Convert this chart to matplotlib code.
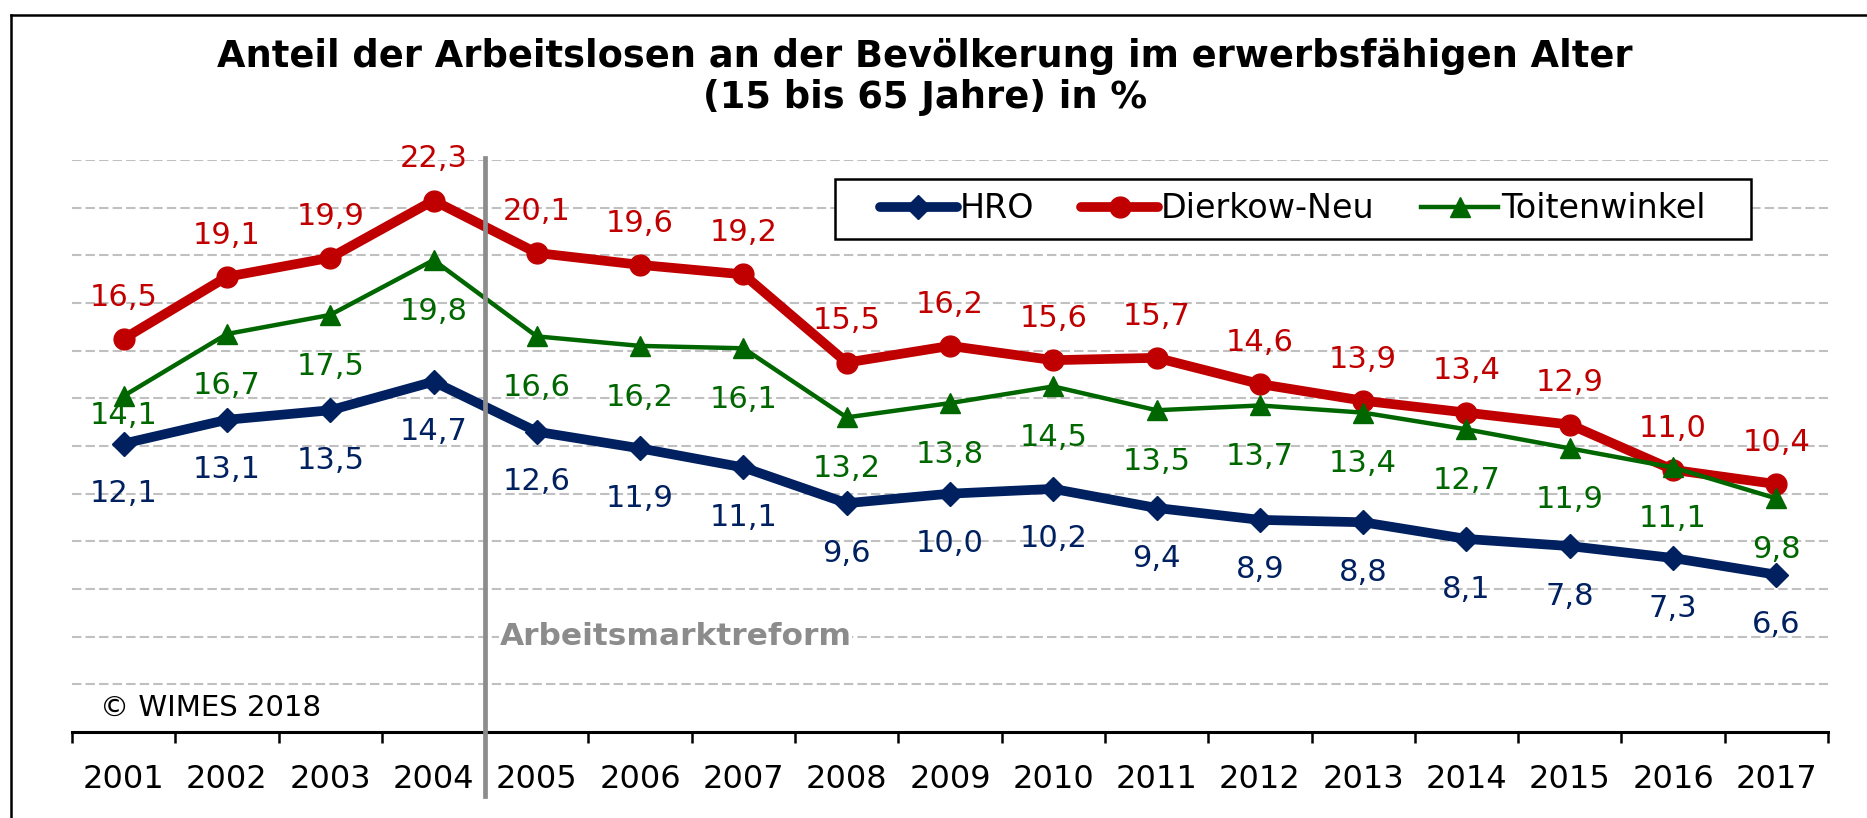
import matplotlib
matplotlib.use("Agg")
import matplotlib.pyplot as plt
from matplotlib.lines import Line2D
from matplotlib.patches import Rectangle

YEARS = [str(y) for y in range(2001, 2018)]
HRO = [12.1, 13.1, 13.5, 14.7, 12.6, 11.9, 11.1, 9.6, 10.0, 10.2, 9.4, 8.9, 8.8, 8.1, 7.8, 7.3, 6.6]
DIERKOW = [16.5, 19.1, 19.9, 22.3, 20.1, 19.6, 19.2, 15.5, 16.2, 15.6, 15.7, 14.6, 13.9, 13.4, 12.9, 11.0, 10.4]
TOITEN = [14.1, 16.7, 17.5, 19.8, 16.6, 16.2, 16.1, 13.2, 13.8, 14.5, 13.5, 13.7, 13.4, 12.7, 11.9, 11.1, 9.8]

TITLE = "Anteil der Arbeitslosen an der Bevölkerung im erwerbsfähigen Alter\n(15 bis 65 Jahre) in %"

C_HRO = "#002060"
C_RED = "#C00000"
C_GREEN = "#006600"

W, H = 1867, 818
plt.rcParams["font.family"] = ["DejaVu Sans"]

fig = plt.figure(figsize=(W / 100, H / 100), dpi=100)
ax = fig.add_axes([72 / W, 1 - 732 / H, (1828 - 72) / W, (732 - 160) / H])

x = list(range(len(YEARS)))

for yv in range(2, 25, 2):
    ax.axhline(yv, color="#C0C0C0", lw=1.5, ls=(0, (4.5, 2)), zorder=1)

ax.plot(x, HRO, color=C_HRO, lw=7, marker="D", ms=12, label="HRO", zorder=3,
        solid_joinstyle="round", solid_capstyle="round")
ax.plot(x, DIERKOW, color=C_RED, lw=7, marker="o", ms=15, label="Dierkow-Neu", zorder=3,
        solid_joinstyle="round", solid_capstyle="round")
ax.plot(x, TOITEN, color=C_GREEN, lw=3.2, marker="^", ms=15, label="Toitenwinkel", zorder=4)

def fmt(v):
    return f"{v:.1f}".replace(".", ",")

for i, v in enumerate(HRO):
    ax.text(i, v - 2.1, fmt(v), color=C_HRO, fontsize=22, ha="center", va="center", zorder=5)
for i, v in enumerate(DIERKOW):
    ax.text(i, v + 1.75, fmt(v), color=C_RED, fontsize=22, ha="center", va="center", zorder=5)
for i, v in enumerate(TOITEN):
    off = 0.8 if i == 0 else 2.15
    ax.text(i, v - off, fmt(v), color=C_GREEN, fontsize=22, ha="center", va="center", zorder=5)

# Arbeitsmarktreform marker line
ax.plot([3.5, 3.5], [24.1, -2.7], color="#8C8C8C", lw=3.4, clip_on=False, zorder=6)
ax.text(3.64, 4.0, "Arbeitsmarktreform", color="#8C8C8C", fontsize=22.5, fontweight="bold",
        ha="left", va="center", zorder=5,
        bbox=dict(facecolor="white", edgecolor="none", pad=0.5))

ax.set_xlim(-0.5, len(YEARS) - 0.5)
ax.set_ylim(0, 24)
ax.set_yticks([])
for side in ("left", "right", "top"):
    ax.spines[side].set_visible(False)
ax.spines["bottom"].set_linewidth(2.2)
ax.spines["bottom"].set_color("black")

ax.set_xticks([i - 0.5 for i in range(len(YEARS) + 1)])
ax.set_xticklabels([])
ax.tick_params(axis="x", which="major", direction="out", length=8, width=1.8, color="black")
ax.set_xticks(x, minor=True)
ax.set_xticklabels(YEARS, minor=True, fontsize=23)
ax.tick_params(axis="x", which="minor", length=0, pad=23)

fig.text(100 / W, 1 - 708 / H, "© WIMES 2018", fontsize=21, ha="left", va="center")

fig.text(925 / W, 1 - 77 / H, TITLE, fontsize=26.5, fontweight="bold", ha="center", va="center",
         linespacing=1.12)

# legend box
ax.add_patch(Rectangle((835 / W, 1 - 239 / H), (1751 - 835) / W, 60 / H,
                       transform=fig.transFigure, facecolor="white", edgecolor="black",
                       lw=1.8, zorder=7, clip_on=False))
leg = ax.legend(loc="center", bbox_to_anchor=(1293 / W, 1 - 209 / H),
                bbox_transform=fig.transFigure, ncol=3, frameon=False, fontsize=24,
                handlelength=2.3, handletextpad=0.1, columnspacing=1.4,
                borderpad=0, borderaxespad=0)
leg.set_zorder(8)

# outer frame (left and top edges)
fig.add_artist(Line2D([11 / W, 11 / W], [0, 1 - 15 / H], color="black", lw=1.8,
                      transform=fig.transFigure))
fig.add_artist(Line2D([11 / W, 1], [1 - 15 / H, 1 - 15 / H], color="black", lw=1.8,
                      transform=fig.transFigure))

fig.savefig("out.png", dpi=100)
